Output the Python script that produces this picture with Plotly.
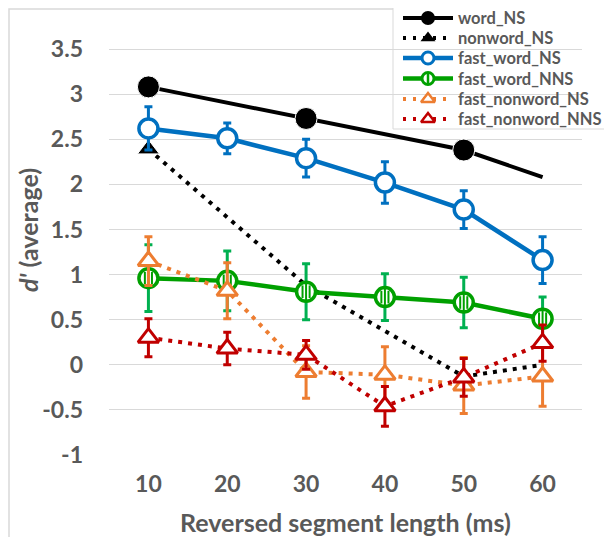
import plotly.graph_objects as go

# ---------------- data ----------------
lengths = [10, 20, 30, 40, 50, 60]
x_tick_labels = ["10", "20", "30", "40", "50", "60"]
y_tick_vals = [-1, -0.5, 0, 0.5, 1, 1.5, 2, 2.5, 3, 3.5]
y_tick_labels = ["-1", "-0.5", "0", "0.5", "1", "1.5", "2", "2.5", "3", "3.5"]

word_NS = [3.08, None, 2.73, None, 2.38, 2.08]
nonword_NS = [2.39, None, 0.88, None, -0.13, 0.0]
fast_word_NS = [2.62, 2.51, 2.29, 2.02, 1.72, 1.16]
fast_word_NS_err = [0.24, 0.17, 0.21, 0.23, 0.21, 0.26]
fast_word_NNS = [0.96, 0.93, 0.81, 0.75, 0.69, 0.51]
fast_word_NNS_err = [0.37, 0.33, 0.31, 0.26, 0.28, 0.24]
fast_nonword_NS = [1.15, 0.82, -0.08, -0.11, -0.23, -0.13]
fast_nonword_NS_err = [0.27, 0.31, 0.29, 0.31, 0.31, 0.33]
fast_nonword_NNS = [0.30, 0.18, 0.11, -0.46, -0.14, 0.24]
fast_nonword_NNS_err = [0.21, 0.18, 0.16, 0.22, 0.21, 0.20]

series_names = ["word_NS", "nonword_NS", "fast_word_NS", "fast_word_NNS",
                "fast_nonword_NS", "fast_nonword_NNS"]

# ---------------- styles ----------------
BLACK = "#000000"
BLUE = "#0070C0"
GREEN = "#00A000"
GREEN_ERR = "#00B050"
ORANGE = "#ED7D31"
RED = "#C00000"
TEXT = "#595959"
GRID = "#D9D9D9"
FONT = "Lato, 'Open Sans', 'DejaVu Sans', sans-serif"
DOT = "4px,6px"

fig = go.Figure()

# word_NS (markers only at the points that carry one in the original)
word_marker_sizes = [22 if v is not None and i < 5 else 0 for i, v in enumerate(word_NS)]
fig.add_trace(go.Scatter(
    x=lengths, y=word_NS, mode="lines+markers", connectgaps=True, name=series_names[0],
    line=dict(color=BLACK, width=4),
    marker=dict(symbol="circle", size=word_marker_sizes, color=BLACK, opacity=1),
))

nonword_marker_sizes = [19 if i == 0 else 0 for i in range(len(nonword_NS))]
fig.add_trace(go.Scatter(
    x=lengths, y=nonword_NS, mode="lines+markers", connectgaps=True, name=series_names[1],
    line=dict(color=BLACK, width=4, dash=DOT),
    marker=dict(symbol="triangle-up", size=nonword_marker_sizes, color=BLACK, opacity=1),
))

fig.add_trace(go.Scatter(
    x=lengths, y=fast_word_NS, mode="lines+markers", name=series_names[2],
    line=dict(color=BLUE, width=4.5),
    marker=dict(symbol="circle", size=19, color="white", line=dict(color=BLUE, width=3.5)),
    error_y=dict(type="data", array=fast_word_NS_err, color=BLUE, thickness=3, width=4),
))

fig.add_trace(go.Scatter(
    x=lengths, y=fast_word_NNS, mode="lines+markers", name=series_names[3],
    line=dict(color=GREEN, width=4.5),
    marker=dict(symbol="circle", size=19, color="white", line=dict(color=GREEN, width=3.5)),
    error_y=dict(type="data", array=fast_word_NNS_err, color=GREEN_ERR, thickness=3, width=4),
))
# vertical stripe fill of the green markers
for dx, sz in [(-0.45, 9), (0.0, 13), (0.45, 9)]:
    fig.add_trace(go.Scatter(
        x=[v + dx for v in lengths], y=fast_word_NNS, mode="markers", hoverinfo="skip",
        marker=dict(symbol="line-ns", size=sz, line=dict(color=GREEN, width=2)),
    ))

fig.add_trace(go.Scatter(
    x=lengths, y=fast_nonword_NS, mode="lines+markers", name=series_names[4],
    line=dict(color=ORANGE, width=4, dash=DOT),
    marker=dict(symbol="triangle-up", size=18, color="white", line=dict(color=ORANGE, width=3)),
    error_y=dict(type="data", array=fast_nonword_NS_err, color=ORANGE, thickness=3, width=4),
))

fig.add_trace(go.Scatter(
    x=lengths, y=fast_nonword_NNS, mode="lines+markers", name=series_names[5],
    line=dict(color=RED, width=4, dash=DOT),
    marker=dict(symbol="triangle-up", size=18, color="white", line=dict(color=RED, width=3)),
    error_y=dict(type="data", array=fast_nonword_NNS_err, color=RED, thickness=3, width=4),
))

# page geometry: the page body adds an 8px offset; target coordinates are in page pixels
OFF = 8
FIG_W, FIG_H = 612 - OFF, 537 - OFF
L, R, T, B = 109, 582, 8, 455           # plot region in page pixels (top reaches the page edge)
Y_TOP_GRID_PX = 49                      # pixel row of the 3.5 gridline
Y_MIN, Y_TOP_GRID = -1, 3.5
PX_PER_UNIT = (B - Y_TOP_GRID_PX) / (Y_TOP_GRID - Y_MIN)
Y_MAX = Y_TOP_GRID + (Y_TOP_GRID_PX - T) / PX_PER_UNIT
W, H = R - L, B - T

def px_x(p):
    return (p - L) / W

def px_y(p):
    return (B - p) / H

# ---------------- hand-drawn legend (compact, like the original) ----------------
LEG_X0, LEG_Y0, LEG_Y1 = 393, 4, 129
LEG_ROWS = [18, 38, 58, 78.5, 99, 119]
LEG_LINE_X0, LEG_LINE_X1, LEG_MARK_X, LEG_TEXT_X = 403, 453, 428, 456
legend_line_styles = [
    dict(color=BLACK, width=4),
    dict(color=BLACK, width=4, dash="3px,7px"),
    dict(color=BLUE, width=4.5),
    dict(color=GREEN, width=4.5),
    dict(color=ORANGE, width=4, dash="3px,7px"),
    dict(color=RED, width=4, dash="3px,7px"),
]
legend_marker_styles = [
    dict(symbol="circle", size=14, color=BLACK),
    dict(symbol="triangle-up", size=13, color=BLACK),
    dict(symbol="circle", size=12, color="white", line=dict(color=BLUE, width=3)),
    dict(symbol="circle", size=12, color="white", line=dict(color=GREEN, width=3)),
    dict(symbol="triangle-up", size=12, color="white", line=dict(color=ORANGE, width=2.5)),
    dict(symbol="triangle-up", size=12, color="white", line=dict(color=RED, width=2.5)),
]

shapes = [
    dict(type="rect", xref="paper", yref="paper",
         x0=px_x(9), x1=px_x(700), y0=px_y(620), y1=px_y(9),
         line=dict(color=GRID, width=1.5), layer="below"),
    dict(type="rect", xref="paper", yref="paper",
         x0=px_x(LEG_X0), x1=px_x(700), y0=px_y(LEG_Y1), y1=px_y(LEG_Y0),
         line=dict(color=GRID, width=1), fillcolor="white", layer="below"),
]
annotations = []
for name, yrow, lst, mst in zip(series_names, LEG_ROWS, legend_line_styles, legend_marker_styles):
    shapes.append(dict(type="line", xref="paper", yref="paper",
                       x0=px_x(LEG_LINE_X0), x1=px_x(LEG_LINE_X1), y0=px_y(yrow), y1=px_y(yrow),
                       line=lst, layer="below"))
    fig.add_trace(go.Scatter(x=[LEG_MARK_X], y=[yrow], xaxis="x2", yaxis="y2", mode="markers",
                             marker=mst, hoverinfo="skip"))
    annotations.append(dict(text=name, xref="paper", yref="paper",
                            x=px_x(LEG_TEXT_X), y=px_y(yrow), xanchor="left", yanchor="middle",
                            showarrow=False,
                            font=dict(family=FONT, size=16.5, color=TEXT, weight="bold")))
# stripe of the green legend marker
fig.add_trace(go.Scatter(x=[LEG_MARK_X], y=[LEG_ROWS[3]], xaxis="x2", yaxis="y2", mode="markers",
                         marker=dict(symbol="line-ns", size=8, line=dict(color=GREEN, width=2.5)),
                         hoverinfo="skip"))

annotations += [
    dict(text="Reversed segment length (ms)", xref="paper", yref="paper",
         x=0.5, y=px_y(522), xanchor="center", yanchor="middle", showarrow=False,
         font=dict(family=FONT, size=25, color=TEXT, weight="bold")),
    dict(text="<i>d'</i> (average)", xref="paper", yref="paper", textangle=-90,
         x=px_x(28), y=px_y(230), xanchor="center", yanchor="middle", showarrow=False,
         font=dict(family=FONT, size=25, color=TEXT, weight="bold")),
]

fig.update_layout(
    width=FIG_W, height=FIG_H,
    margin=dict(l=L - OFF, r=FIG_W - (R - OFF), t=T - OFF, b=FIG_H - (B - OFF), pad=0, autoexpand=False),
    paper_bgcolor="white", plot_bgcolor="rgba(0,0,0,0)",
    font=dict(family=FONT, color=TEXT),
    showlegend=False,
    xaxis=dict(
        range=[5, 65], tickvals=lengths, ticktext=x_tick_labels,
        showgrid=False, zeroline=False, showline=False, ticks="",
        tickfont=dict(family=FONT, size=23, color=TEXT, weight="bold"),
        ticklabelstandoff=13, automargin=False,
    ),
    yaxis=dict(
        range=[Y_MIN, Y_MAX], tickvals=y_tick_vals, ticktext=y_tick_labels,
        showgrid=True, gridcolor=GRID, gridwidth=1, zeroline=False, showline=False, ticks="",
        tickfont=dict(family=FONT, size=23, color=TEXT, weight="bold"),
        ticklabelstandoff=25, automargin=False,
    ),
    xaxis2=dict(overlaying="x", range=[L, R], visible=False, fixedrange=True),
    yaxis2=dict(overlaying="y", range=[B, T], visible=False, fixedrange=True),
    shapes=shapes,
    annotations=annotations,
)

fig.write_html("out.html")
